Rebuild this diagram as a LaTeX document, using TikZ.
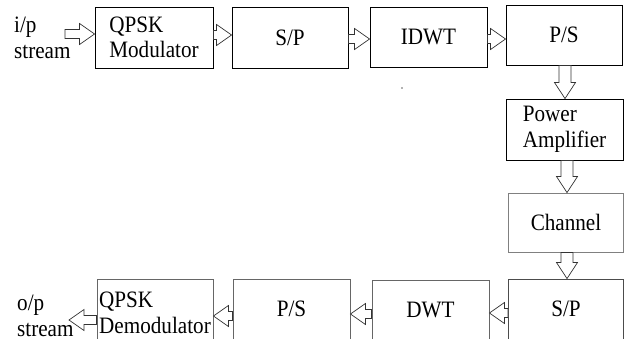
\documentclass[tikz,border=0pt]{standalone}
\usepackage{fontspec}
\setmainfont[FakeStretch=0.9]{Liberation Serif}
\usetikzlibrary{calc}
\tikzset{
 txt/.style={font=\fontsize{23.5}{25.5}\selectfont},
 box/.style={draw=#1, line width=0.9pt, minimum width=116pt, minimum height=60pt, inner sep=0pt, align=left, txt},
 box/.default=black,
 blk/.style n args={3}{draw=black!80, line width=0.7pt, fill=white, to path={
   ($(\tikztostart)!#1!90:(\tikztotarget)$)
   -- ($($(\tikztotarget)!#3!(\tikztostart)$)!#1!90:(\tikztotarget)$)
   -- ($($(\tikztotarget)!#3!(\tikztostart)$)!#2!90:(\tikztotarget)$)
   -- (\tikztotarget)
   -- ($($(\tikztotarget)!#3!(\tikztostart)$)!#2!-90:(\tikztotarget)$)
   -- ($($(\tikztotarget)!#3!(\tikztostart)$)!#1!-90:(\tikztotarget)$)
   -- ($(\tikztostart)!#1!-90:(\tikztotarget)$)
   -- cycle}},
 hblk/.style={blk={4.5pt}{10.5pt}{15pt}},
 vblk/.style={blk={6pt}{10.5pt}{16pt}},
}
\begin{document}
\begin{tikzpicture}[x=1pt,y=-1pt]
\useasboundingbox (0,0) rectangle (624,338);
\clip (0,0) rectangle (624,338);
% top row
\node[box, minimum width=118pt, minimum height=61pt] (qpsk) at (154,37.5) {QPSK\\Modulator};
\node[box, minimum height=61pt] (sp1) at (290,37.5) {S/P};
\node[box, minimum width=117pt] (idwt) at (428.5,37) {IDWT};
\node[box] (ps1) at (564,35) {P/S};
% right column
\node[box, minimum width=117pt, minimum height=61pt] (pa) at (564.5,129.5) {Power\\Amplifier};
\node[box=gray, minimum width=115pt, minimum height=59pt] (ch) at (566,222.5) {Channel};
% bottom row
\node[box=black!70, minimum width=115pt] (sp2) at (566,309) {S/P};
\node[box=black!60, minimum width=117pt] (dwt) at (430.5,310) {DWT};
\node[box=black!60, minimum width=117pt] (ps2) at (291.5,309) {P/S};
\node[box=black!60, minimum height=68pt] (demod) at (155,313) {QPSK\\Demodulator};
% io labels
\node[txt, align=left, anchor=west, inner sep=0pt] (in) at (14,38) {i/p\\stream};
\node[txt, align=left, anchor=west, inner sep=0pt] (out) at (17,316) {o/p\\stream};
\coordinate (inp) at (65,34);
\coordinate (outp) at (69,320);
% arrows
\draw[hblk] (inp) to (qpsk.west |- inp);
\draw[hblk] (qpsk.east |- 0,35) to (sp1.west |- 0,35);
\draw[hblk] (sp1.east |- 0,39) to (idwt.west |- 0,39);
\draw[hblk] (idwt.east |- 0,39) to (ps1.west |- 0,39);
\draw[vblk] (ps1.south -| 565,0) to (pa.north -| 565,0);
\draw[vblk] (pa.south -| 567,0) to (ch.north -| 567,0);
\draw[vblk] (ch.south -| 567,0) to (sp2.north -| 567,0);
\draw[hblk] (sp2.west |- 0,313) to (dwt.east |- 0,313);
\draw[hblk] (dwt.west |- 0,314) to (ps2.east |- 0,314);
\draw[hblk] (ps2.west |- 0,316) to (demod.east |- 0,316);
\draw[hblk] (demod.west |- outp) to (outp);
% stray dot
\fill[black!60] (402,88) circle (0.8pt);
\end{tikzpicture}
\end{document}
